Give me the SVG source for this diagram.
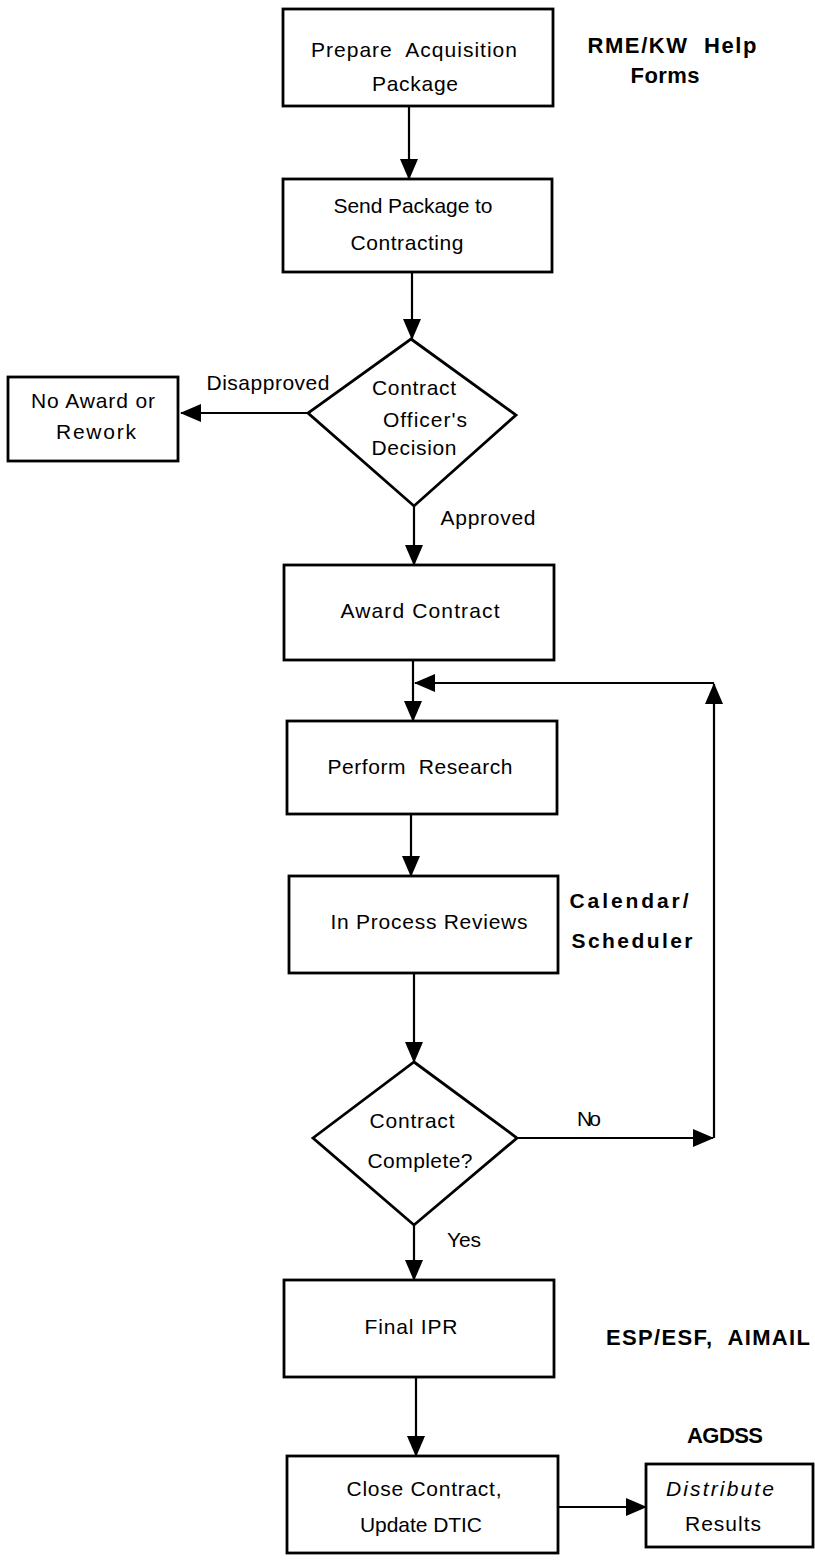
<svg xmlns="http://www.w3.org/2000/svg" width="815" height="1561" viewBox="0 0 815 1561">
<style>
.box{fill:#fff;stroke:#000;stroke-width:2.8}
.t{font-family:"Liberation Sans",Arial,sans-serif;font-size:21px;fill:#000;text-anchor:middle}
.a{font-family:"Liberation Sans",Arial,sans-serif;font-size:21px;font-weight:bold;fill:#000;text-anchor:middle}
.c{stroke:#000;stroke-width:2.2;fill:none;marker-end:url(#ah)}
</style>
<defs>
<marker id="ah" markerUnits="userSpaceOnUse" markerWidth="21" markerHeight="18" refX="20" refY="9" orient="auto">
<path d="M0,0 L21,9 L0,18 z" fill="#000"/>
</marker>
</defs>
<rect width="815" height="1561" fill="#fff"/>
<g id="connectors">
<line class="c" x1="409" y1="106" x2="409" y2="179"/>
<line class="c" x1="412" y1="272" x2="412" y2="339"/>
<line class="c" x1="308" y1="413" x2="181" y2="413"/>
<line class="c" x1="414" y1="506" x2="414" y2="565"/>
<line class="c" x1="413" y1="660" x2="413" y2="721"/>
<line class="c" x1="411" y1="814" x2="411" y2="876"/>
<line class="c" x1="414" y1="973" x2="414" y2="1062"/>
<line class="c" x1="517" y1="1138" x2="713" y2="1138"/>
<line class="c" x1="714" y1="1138" x2="714" y2="684"/>
<line class="c" x1="714" y1="683" x2="415" y2="683"/>
<line class="c" x1="414" y1="1225" x2="414" y2="1280"/>
<line class="c" x1="416" y1="1377" x2="416" y2="1456"/>
<line class="c" x1="558" y1="1507" x2="646" y2="1507"/>
<text class="t" x="268" y="390" textLength="123">Disapproved</text>
<text class="t" x="488" y="525" textLength="95">Approved</text>
<text class="t" x="589" y="1126" textLength="24">No</text>
<text class="t" x="464" y="1247" textLength="34">Yes</text>
</g>
<g id="n1">
<rect class="box" x="283" y="9" width="270" height="97"/>
<text class="t" x="414" y="57" textLength="206" xml:space="preserve">Prepare  Acquisition</text>
<text class="t" x="415" y="91" textLength="86">Package</text>
</g>
<g id="note1">
<text class="a" x="672" y="53" textLength="169" style="font-size:22px" xml:space="preserve">RME/KW  Help</text>
<text class="a" x="665" y="83" textLength="69" style="font-size:22px">Forms</text>
</g>
<g id="n2">
<rect class="box" x="283" y="179" width="269" height="93"/>
<text class="t" x="413" y="213" textLength="159">Send Package to</text>
<text class="t" x="407" y="250" textLength="113">Contracting</text>
</g>
<g id="d1">
<polygon class="box" points="411,339 516,415 414,506 308,413"/>
<text class="t" x="414" y="395" textLength="84">Contract</text>
<text class="t" x="425" y="427" textLength="84">Officer's</text>
<text class="t" x="414" y="455" textLength="85">Decision</text>
</g>
<g id="n3">
<rect class="box" x="8" y="377" width="170" height="84"/>
<text class="t" x="93" y="408" textLength="124">No Award or</text>
<text class="t" x="96" y="439" textLength="80">Rework</text>
</g>
<g id="n4">
<rect class="box" x="284" y="565" width="270" height="95"/>
<text class="t" x="420" y="618" textLength="159">Award Contract</text>
</g>
<g id="n5">
<rect class="box" x="287" y="721" width="270" height="93"/>
<text class="t" x="420" y="774" textLength="185" xml:space="preserve">Perform  Research</text>
</g>
<g id="n6">
<rect class="box" x="289" y="876" width="269" height="97"/>
<text class="t" x="429" y="929" textLength="197">In Process Reviews</text>
</g>
<g id="note2">
<text class="a" x="629" y="908" textLength="119">Calendar/</text>
<text class="a" x="632" y="948" textLength="121">Scheduler</text>
</g>
<g id="d2">
<polygon class="box" points="414,1062 517,1138 414,1225 313,1138"/>
<text class="t" x="412" y="1128" textLength="85">Contract</text>
<text class="t" x="420" y="1168" textLength="105">Complete?</text>
</g>
<g id="n7">
<rect class="box" x="284" y="1280" width="270" height="97"/>
<text class="t" x="411" y="1334" textLength="93">Final IPR</text>
</g>
<g id="note3">
<text class="a" x="708" y="1345" textLength="204" style="font-size:22px" xml:space="preserve">ESP/ESF,  AIMAIL</text>
</g>
<g id="n8">
<rect class="box" x="287" y="1456" width="271" height="97"/>
<text class="t" x="424" y="1496" textLength="155">Close Contract,</text>
<text class="t" x="421" y="1532" textLength="122">Update DTIC</text>
</g>
<g id="note4">
<text class="a" x="725" y="1443" textLength="76" style="font-size:22px">AGDSS</text>
</g>
<g id="n9">
<rect class="box" x="646" y="1464" width="167" height="83"/>
<text class="t" x="720" y="1496" textLength="108" style="font-style:italic">Distribute</text>
<text class="t" x="723" y="1531" textLength="76">Results</text>
</g>
</svg>
